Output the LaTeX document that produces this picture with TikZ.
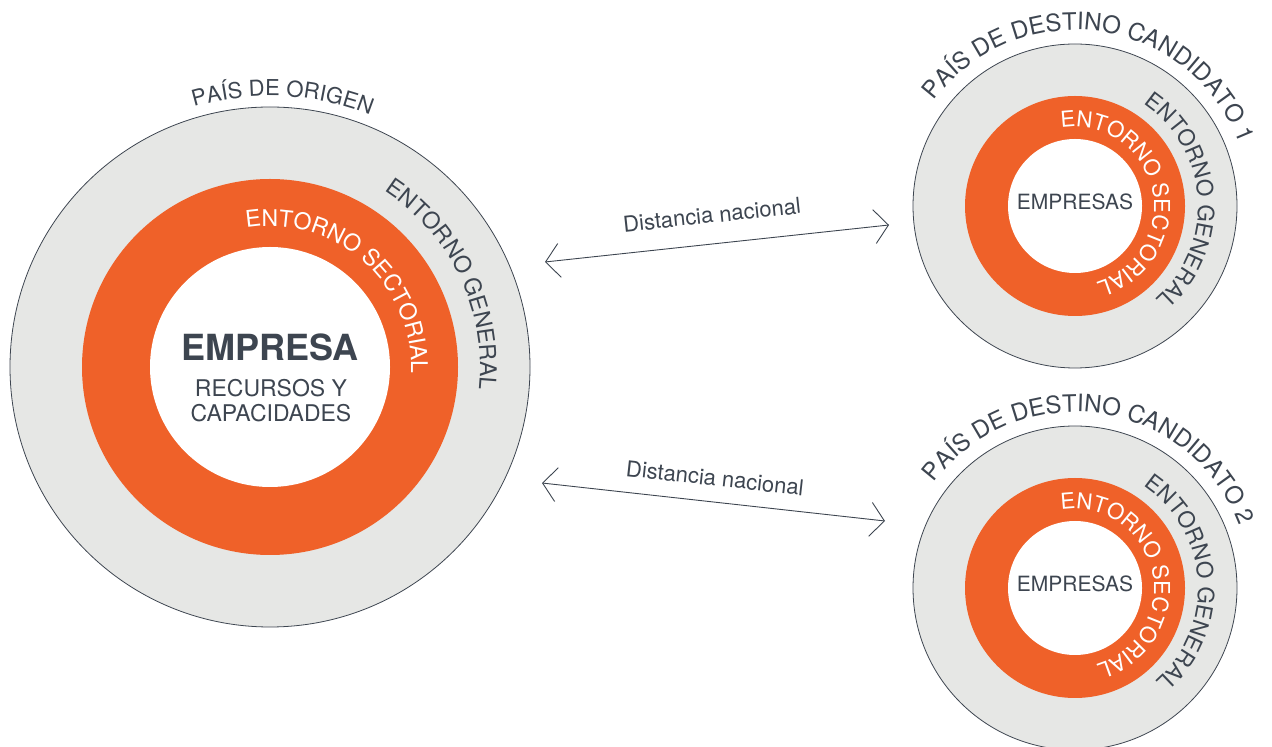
\documentclass[tikz,border=0pt]{standalone}
\usepackage{fontspec}
\setmainfont{TeX Gyre Heros}
\usetikzlibrary{decorations.text,arrows.meta}
\definecolor{ink}{HTML}{3D4550}
\definecolor{ringgray}{HTML}{E6E7E5}
\definecolor{orng}{HTML}{EF6129}
\newcommand\arclabel[7]{%
  \path[decorate,decoration={text along path,text align=center,
    text={|\color{#6}\fontsize{#5}{#5}\selectfont|#7}}]
    (#1) ++({#3+#4}:#2) arc[start angle={#3+#4},end angle={#3-#4},radius=#2];}
\tikzset{
  ring/.style={circle,draw=ink,line width=0.8pt,fill=ringgray,inner sep=0pt},
  band/.style={circle,fill=orng,inner sep=0pt},
  core/.style={circle,fill=white,inner sep=0pt},
  lbl/.style={text=ink,inner sep=0pt,font=\fontsize{22}{22}\selectfont},
  arr/.style={draw=ink,line width=0.9pt,
    {Straight Barb[length=14pt,width=34pt]}-{Straight Barb[length=14pt,width=34pt]}}
}
\begin{document}
\begin{tikzpicture}[x=1pt,y=1pt]
\useasboundingbox (0,0) rectangle (1272,747);
% origin country
\node[ring,minimum size=520pt] (Bo) at (270,380) {};
\node[band,minimum size=376pt] (Bm) at (270,380) {};
\node[core,minimum size=240pt] (Bi) at (270,380) {};
% candidate 1
\node[ring,minimum size=324pt] (To) at (1075,541) {};
\node[band,minimum size=220pt] (Tm) at (1075,541) {};
\node[core,minimum size=134pt] (Ti) at (1075,541) {};
% candidate 2
\node[ring,minimum size=324pt] (Ro) at (1075,159) {};
\node[band,minimum size=220pt] (Rm) at (1075,159) {};
\node[core,minimum size=134pt] (Ri) at (1075,159) {};
% centre texts
\node[text=ink,inner sep=0pt,font=\bfseries\fontsize{36}{36}\selectfont] (emp) at (270,400) {EMPRESA};
\node[text=ink,inner sep=0pt,align=center,font=\fontsize{23}{25}\selectfont] (rec) at (271,346.5) {RECURSOS Y\\CAPACIDADES};
\node[text=ink,inner sep=0pt,font=\fontsize{21}{21}\selectfont] (e1) at (1075,545) {EMPRESAS};
\node[text=ink,inner sep=0pt,font=\fontsize{21}{21}\selectfont] (e2) at (1075,163) {EMPRESAS};
% arc labels
\arclabel{Bo}{271}{87.3}{60}{22}{ink}{PAÍS DE ORIGEN}
\arclabel{Bo}{210}{25.5}{80}{23}{ink}{ENTORNO GENERAL}
\arclabel{Bo}{141}{48.5}{90}{23}{white}{ENTORNO SECTORIAL}
\arclabel{To}{176}{82}{90}{24}{ink}{PAÍS DE DESTINO CANDIDATO 1}
\arclabel{To}{123}{3.5}{90}{22.5}{ink}{ENTORNO GENERAL}
\arclabel{To}{79}{12.8}{110}{22}{white}{ENTORNO SECTORIAL}
\arclabel{Ro}{176}{82}{90}{24}{ink}{PAÍS DE DESTINO CANDIDATO 2}
\arclabel{Ro}{123}{3.5}{90}{22.5}{ink}{ENTORNO GENERAL}
\arclabel{Ro}{79}{12.8}{110}{22}{white}{ENTORNO SECTORIAL}
% distance arrows
\coordinate (a1s) at (545,485);
\coordinate (a1e) at (889,522);
\draw[arr] (a1s) -- (a1e);
\node[lbl,rotate=6.1] (d1) at (712,532) {Distancia nacional};
\coordinate (a2s) at (542,264);
\coordinate (a2e) at (885,226);
\draw[arr] (a2s) -- (a2e);
\node[lbl,rotate=-6.3] (d2) at (715,269) {Distancia nacional};
\end{tikzpicture}
\end{document}
